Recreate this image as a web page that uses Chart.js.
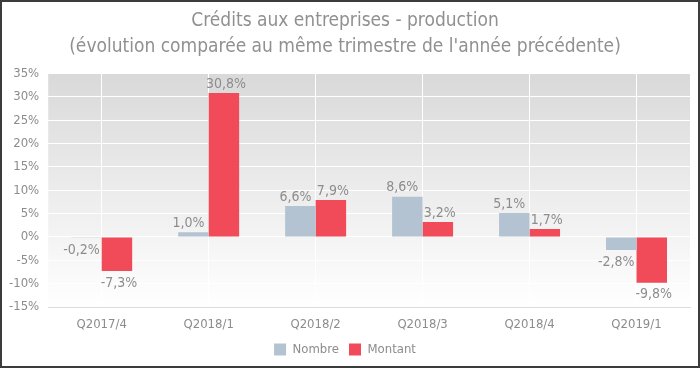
<!DOCTYPE html>
<html><head><meta charset="utf-8">
<script src="https://cdn.jsdelivr.net/npm/chart.js@4/dist/chart.umd.min.js"></script>
<style>
html,body{margin:0;padding:0;background:#fff;}
#wrap{position:relative;width:700px;height:368px;}
#frame{position:absolute;left:0;top:0;width:700px;height:368px;box-sizing:border-box;border:2px solid #3c3c3c;pointer-events:none;}
</style></head>
<body>
<div id="wrap"><canvas id="c" width="700" height="368"></canvas><div id="frame"></div></div>
<script>
const categories = ["Q2017/4","Q2018/1","Q2018/2","Q2018/3","Q2018/4","Q2019/1"];
const nombre = [-0.2, 1.0, 6.6, 8.6, 5.1, -2.8];
const montant = [-7.3, 30.8, 7.9, 3.2, 1.7, -9.8];
const seriesNames = ["Nombre","Montant"];
const titleLines = ["Crédits aux entreprises - production","(évolution comparée au même trimestre de l'année précédente)"];

const FONT = "'DejaVu Sans Condensed','DejaVu Sans',sans-serif";
const TXT = '#8c8c8c';

const bgPlugin = {
  id:'bgGrad',
  beforeDraw(chart){
    const {ctx, chartArea:a} = chart;
    const g = ctx.createLinearGradient(0,a.top,0,a.bottom);
    g.addColorStop(0,'#d9d9d9');
    g.addColorStop(1,'#ffffff');
    ctx.save();
    ctx.fillStyle = g;
    ctx.fillRect(a.left,a.top,a.right-a.left,a.bottom-a.top);
    ctx.restore();
  }
};
const labelPlugin = {
  id:'valLabels',
  afterDatasetsDraw(chart){
    const ctx = chart.ctx;
    ctx.save();
    ctx.font = "14px " + FONT;
    ctx.fillStyle = TXT;
    ctx.textAlign = 'center';
    chart.data.datasets.forEach((ds,di)=>{
      const meta = chart.getDatasetMeta(di);
      const dx = di===0 ? -5 : 2;
      meta.data.forEach((bar,i)=>{
        const v = ds.data[i];
        const t = v.toFixed(1).replace('.',',') + '%';
        if (v >= 0){ ctx.textBaseline='bottom'; ctx.fillText(t, bar.x+dx, bar.y-2); }
        else { ctx.textBaseline='top'; ctx.fillText(t, bar.x+dx, bar.y+5); }
      });
    });
    ctx.restore();
  }
};

new Chart(document.getElementById('c'), {
  type:'bar',
  data:{
    labels: categories,
    datasets:[
      {label:seriesNames[0], data:nombre, backgroundColor:'#b4c3d1', categoryPercentage:0.57, barPercentage:1.0},
      {label:seriesNames[1], data:montant, backgroundColor:'#f14b5a', categoryPercentage:0.57, barPercentage:1.0}
    ]
  },
  options:{
    responsive:false,
    animation:false,
    devicePixelRatio:1,
    layout:{padding:{left:0,right:10,top:8,bottom:2}},
    plugins:{
      title:{display:true, text:titleLines, color:'#909090', font:{family:FONT,size:19,weight:'normal',lineHeight:1.38}, padding:{top:0,bottom:13}},
      legend:{position:'bottom', labels:{color:TXT, boxWidth:12, boxHeight:12, padding:10, font:{family:FONT,size:13}}},
      tooltip:{enabled:false}
    },
    scales:{
      x:{
        offset:true,
        afterFit(scale){ scale.height = 26; },
        grid:{offset:false, color:'#ffffff', drawTicks:false},
        border:{display:true,color:'#dcdcdc'},
        ticks:{color:TXT, font:{family:FONT,size:13}, padding:10}
      },
      y:{
        min:-15, max:35,
        grid:{color:'#ffffff', drawTicks:false},
        border:{display:false},
        ticks:{stepSize:5, color:TXT, font:{family:FONT,size:13}, padding:9, callback:v=>v+'%'}
      }
    }
  },
  plugins:[bgPlugin,labelPlugin]
});
</script>
</body></html>
